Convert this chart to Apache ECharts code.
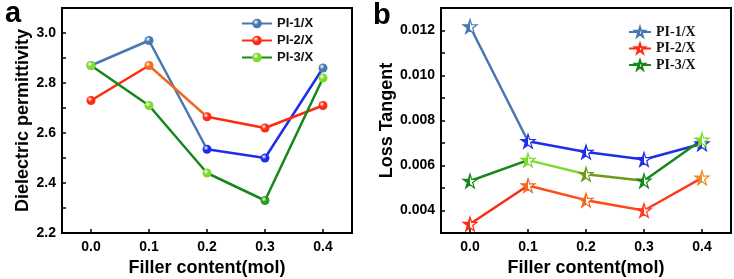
<!DOCTYPE html>
<html>
<head>
<meta charset="utf-8">
<style>
  html, body { margin: 0; padding: 0; background: #fff; }
  #chart { width: 734px; height: 279px; }
</style>
<script src="https://cdn.jsdelivr.net/npm/echarts@6/dist/echarts.min.js"></script>
</head>
<body>
<div id="chart"></div>
<script>
// --- data ---
const categories = ['0.0', '0.1', '0.2', '0.3', '0.4'];
const seriesNames = ['PI-1/X', 'PI-2/X', 'PI-3/X'];

// panel a: dielectric permittivity
const permPI1 = [2.87, 2.97, 2.535, 2.50, 2.86];
const permPI2 = [2.73, 2.87, 2.665, 2.62, 2.71];
const permPI3 = [2.87, 2.71, 2.44, 2.33, 2.82];
const permTickLabels = ['2.2', '2.4', '2.6', '2.8', '3.0'];

// panel b: loss tangent
const lossPI1 = [0.01218, 0.00708, 0.0066, 0.00627, 0.00697];
const lossPI2 = [0.0034, 0.00511, 0.00446, 0.0040, 0.00545];
const lossPI3 = [0.00531, 0.00624, 0.00561, 0.00532, 0.00714];
const lossTickLabels = ['0.004', '0.006', '0.008', '0.010', '0.012'];

// --- colours ---
const STEEL = '#4878b0', BLUE = '#1f2de8', RED = '#ff2a12', ORANGE = '#f06a1e',
      GREEN = '#14881a', LIGHT_GREEN = '#7ddc2a', OLIVE = '#6e9a18';

const FONT = "'Liberation Sans', Arial, sans-serif";
const SERIF = "'Liberation Serif', 'Times New Roman', serif";
const STAR = 'path://M50,2 L61,36 L97,36 L68,57 L79,92 L50,71 L21,92 L32,57 L3,36 L39,36 Z';

// line colour that changes per segment (relative gradient across the series)
function segGradient(stops) {
  const colorStops = [];
  stops.forEach(([from, to, c]) => {
    colorStops.push({ offset: from, color: c }, { offset: to, color: c });
  });
  return { type: 'linear', x: 0, y: 0, x2: 1, y2: 0, colorStops };
}

function ballFill(c) {
  return { type: 'radial', x: 0.38, y: 0.35, r: 0.65,
    colorStops: [{ offset: 0, color: '#ffffff' }, { offset: 0.45, color: c }, { offset: 1, color: c }] };
}
// half-filled star: left half coloured, right half hollow
function starFill(c) {
  return { type: 'linear', x: 0, y: 0, x2: 1, y2: 0,
    colorStops: [{ offset: 0, color: c }, { offset: 0.5, color: c }, { offset: 0.5, color: '#ffffff' }, { offset: 1, color: '#ffffff' }] };
}

function permSeries(name, values, lineStops, markerColors, main) {
  return {
    name, type: 'line', xAxisIndex: 0, yAxisIndex: 0,
    symbol: 'circle', symbolSize: 9,
    lineStyle: { width: 2.5, color: segGradient(lineStops) },
    itemStyle: { color: ballFill(main) },
    data: values.map((v, i) => ({ value: v, itemStyle: { color: ballFill(markerColors[i]) } })),
    z: 3
  };
}

function lossSeries(name, values, lineStops, markerColors, main) {
  return {
    name: name + ' ', type: 'line', xAxisIndex: 1, yAxisIndex: 1,
    symbol: STAR, symbolSize: 14,
    lineStyle: { width: 2.5, color: segGradient(lineStops) },
    itemStyle: { color: starFill(main), borderColor: main, borderWidth: 1.2 },
    data: values.map((v, i) => ({
      value: v,
      itemStyle: { color: starFill(markerColors[i]), borderColor: markerColors[i], borderWidth: 1.2 }
    })),
    z: 3
  };
}

const chart = echarts.init(document.getElementById('chart'), null, { renderer: 'canvas' });

const tickCommon = { show: true, inside: true, length: 4, lineStyle: { color: '#000', width: 1.5 } };
const axisLineCommon = { show: true, lineStyle: { color: '#000', width: 2 } };
const labelCommon = { color: '#000', fontFamily: FONT, fontWeight: 'bold', fontSize: 14 };
const nameCommon = { color: '#000', fontFamily: FONT, fontWeight: 'bold', fontSize: 18 };

const option = {
  animation: false,
  backgroundColor: '#fff',
  title: [
    { text: 'a', left: 0, top: -6, textStyle: { fontFamily: FONT, fontWeight: 'bold', fontSize: 29, color: '#000' } },
    { text: 'b', left: 368, top: -4, textStyle: { fontFamily: FONT, fontWeight: 'bold', fontSize: 29, color: '#000' } }
  ],
  grid: [
    { left: 62, right: 382, top: 8, bottom: 46, outerBoundsMode: 'none', show: true, borderColor: '#000', borderWidth: 2 },
    { left: 441, right: 3, top: 8, bottom: 46, outerBoundsMode: 'none', show: true, borderColor: '#000', borderWidth: 2 }
  ],
  legend: [
    {
      orient: 'vertical', left: 241, top: 17, padding: 0, itemWidth: 30, itemHeight: 12, itemGap: 4,
      textStyle: { fontFamily: FONT, fontWeight: 'bold', fontSize: 13, color: '#111' },
      data: [
        { name: seriesNames[0], lineStyle: { color: STEEL } },
        { name: seriesNames[1], lineStyle: { color: RED } },
        { name: seriesNames[2], lineStyle: { color: GREEN } }
      ]
    },
    {
      orient: 'vertical', left: 628, top: 25, padding: 0, itemWidth: 22, itemHeight: 12, itemGap: 2.5,
      textStyle: { fontFamily: SERIF, fontWeight: 'bold', fontSize: 14, color: '#111' },
      data: [
        { name: seriesNames[0] + ' ', lineStyle: { color: STEEL } },
        { name: seriesNames[1] + ' ', lineStyle: { color: RED } },
        { name: seriesNames[2] + ' ', lineStyle: { color: GREEN } }
      ]
    }
  ],
  xAxis: [0, 1].map(g => ({
    type: 'category', gridIndex: g, data: categories, boundaryGap: true,
    name: 'Filler content(mol)', nameLocation: 'middle', nameGap: 26, nameTextStyle: nameCommon,
    axisLine: axisLineCommon,
    axisTick: Object.assign({ alignWithLabel: true }, tickCommon),
    axisLabel: Object.assign({ margin: 7 }, labelCommon),
    splitLine: { show: false }
  })),
  yAxis: [
    {
      type: 'value', gridIndex: 0, min: 2.2, max: 3.1, interval: 0.1,
      name: 'Dielectric permittivity', nameLocation: 'middle', nameGap: 30, nameTextStyle: nameCommon,
      axisLine: axisLineCommon, axisTick: tickCommon,
      axisLabel: Object.assign({
        margin: 6,
        formatter: v => permTickLabels.includes(v.toFixed(1)) ? v.toFixed(1) : ''
      }, labelCommon),
      splitLine: { show: false }
    },
    {
      type: 'value', gridIndex: 1, min: 0.003, max: 0.013, interval: 0.001,
      name: 'Loss Tangent', nameLocation: 'middle', nameGap: 45, nameTextStyle: nameCommon,
      axisLine: axisLineCommon, axisTick: tickCommon,
      axisLabel: Object.assign({
        margin: 6,
        formatter: v => lossTickLabels.includes(v.toFixed(3)) ? v.toFixed(3) : ''
      }, labelCommon),
      splitLine: { show: false }
    }
  ],
  series: [
    permSeries(seriesNames[0], permPI1, [[0, 0.5, STEEL], [0.5, 1, BLUE]], [STEEL, STEEL, BLUE, BLUE, STEEL], STEEL),
    permSeries(seriesNames[1], permPI2, [[0, 0.25, RED], [0.25, 0.5, ORANGE], [0.5, 1, RED]], [RED, ORANGE, RED, RED, RED], RED),
    permSeries(seriesNames[2], permPI3, [[0, 1, GREEN]], [LIGHT_GREEN, LIGHT_GREEN, LIGHT_GREEN, '#2a9a20', LIGHT_GREEN], LIGHT_GREEN),
    lossSeries(seriesNames[0], lossPI1, [[0, 0.25, STEEL], [0.25, 1, BLUE]], [STEEL, BLUE, BLUE, BLUE, BLUE], STEEL),
    lossSeries(seriesNames[1], lossPI2, [[0, 0.25, RED], [0.25, 0.75, '#ff4a14'], [0.75, 1, '#ff3a20']], [RED, ORANGE, ORANGE, '#ff3a20', '#f08a20'], RED),
    lossSeries(seriesNames[2], lossPI3, [[0, 0.25, GREEN], [0.25, 0.5, LIGHT_GREEN], [0.5, 0.75, OLIVE], [0.75, 1, GREEN]], [GREEN, LIGHT_GREEN, OLIVE, GREEN, LIGHT_GREEN], GREEN)
  ]
};

chart.setOption(option);
</script>
</body>
</html>
